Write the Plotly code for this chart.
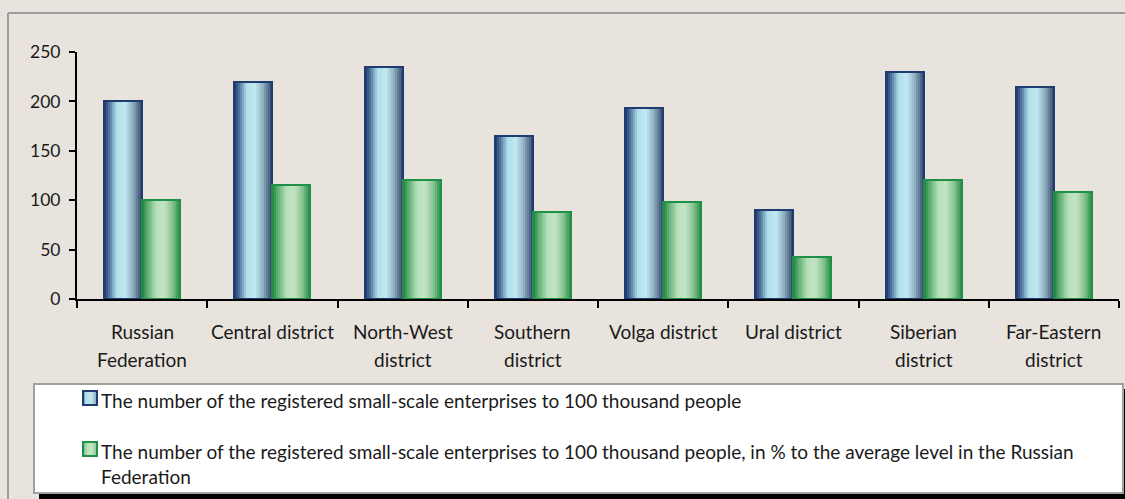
import plotly.graph_objects as go

# ---- data ----
districts = [
    "Russian<br>Federation", "Central district", "North-West<br>district",
    "Southern<br>district", "Volga district", "Ural district",
    "Siberian<br>district", "Far-Eastern<br>district",
]
enterprises_per_100k = [200, 220, 235, 165, 193, 90, 230, 215]
percent_of_russia_avg = [100, 115, 120, 88, 98, 43, 120, 108]
y_ticks = [0, 50, 100, 150, 200, 250]
legend_labels = [
    "The number of the registered small-scale enterprises to 100 thousand people",
    "The number of the registered small-scale enterprises to 100 thousand people, "
    "in % to the average level in the Russian<br>Federation",
]

# ---- page geometry (pixels) ----
W, H = 1125, 499
FONT = "Lato"
TXT = "#1A1A1A"
BG = "#E8E4DD"
AX_L, AX_R = 77, 1119      # x-axis extent
Y0_PX, Y250_PX = 299, 52   # y positions of 0 and 250

def px_x(v):
    return v / W

def px_y(v):
    return 1 - v / H

# horizontal gradient profiles for the cylinder-like bars
BLUE_STOPS = [(0.0, (30, 55, 100)), (0.12, (70, 105, 150)), (0.33, (175, 222, 234)),
              (0.55, (194, 233, 241)), (0.75, (145, 180, 196)), (0.92, (80, 105, 135)),
              (1.0, (45, 65, 105))]
GREEN_STOPS = [(0.0, (28, 128, 60)), (0.15, (95, 175, 115)), (0.38, (182, 224, 186)),
               (0.58, (196, 229, 196)), (0.8, (135, 195, 145)), (0.93, (70, 160, 95)),
               (1.0, (40, 145, 75))]

def grad(stops, t):
    for (t0, c0), (t1, c1) in zip(stops, stops[1:]):
        if t0 <= t <= t1:
            f = (t - t0) / (t1 - t0) if t1 > t0 else 0
            r, g, b = (round(a + (b_ - a) * f) for a, b_ in zip(c0, c1))
            return f"rgb({r},{g},{b})"
    r, g, b = stops[-1][1]
    return f"rgb({r},{g},{b})"

cat_px = (AX_R - AX_L) / len(districts)
BAR_W = 38 / cat_px          # bar width in category units
N_STRIPES = 19

fig = go.Figure()

def add_series(values, offset0, stops, edge):
    sw = BAR_W / N_STRIPES
    for i in range(N_STRIPES):
        t = (i + 0.5) / N_STRIPES
        # each stripe overlaps the next one slightly so no seams show
        w = sw * (1.6 if i < N_STRIPES - 1 else 1.0)
        fig.add_trace(go.Bar(
            x=districts, y=values, width=w, offset=offset0 + i * sw,
            marker=dict(color=grad(stops, t), line=dict(width=0)),
            showlegend=False, hoverinfo="skip",
        ))
    # outline on top
    fig.add_trace(go.Bar(
        x=districts, y=values, width=BAR_W, offset=offset0,
        marker=dict(color="rgba(0,0,0,0)", line=dict(color=edge, width=2)),
        showlegend=False,
    ))

add_series(enterprises_per_100k, -BAR_W, BLUE_STOPS, "#1F3B70")
add_series(percent_of_russia_avg, 0.0, GREEN_STOPS, "#1E9047")

shapes = []
# outer frame: top and left edges
frame = dict(type="line", xref="paper", yref="paper",
             line=dict(color="#9C9C9C", width=2), layer="below")
shapes.append(dict(frame, x0=px_x(8), x1=1.0, y0=px_y(13), y1=px_y(13)))
shapes.append(dict(frame, x0=px_x(8), x1=px_x(8), y0=px_y(13), y1=0.0))
# legend box with drop shadow
shapes.append(dict(type="rect", xref="paper", yref="paper",
                   x0=px_x(39), x1=1.0, y0=px_y(389), y1=0.0,
                   line=dict(width=0), fillcolor="black", layer="above"))
shapes.append(dict(type="rect", xref="paper", yref="paper",
                   x0=px_x(34), x1=px_x(1123), y0=px_y(384), y1=px_y(493),
                   line=dict(color="#A0A0A0", width=2), fillcolor="white", layer="above"))

annotations = []
# legend swatches + texts
for label, stops, edge, top in [
        (legend_labels[0], BLUE_STOPS, "#1F3B70", 391),
        (legend_labels[1], GREEN_STOPS, "#1E9047", 442)]:
    x0, x1 = 83, 97
    n = 7
    for i in range(n):
        t = (i + 0.5) / n
        shapes.append(dict(type="rect", xref="paper", yref="paper",
                           x0=px_x(x0 + (x1 - x0) * i / n), x1=px_x(x0 + (x1 - x0) * (i + 1) / n),
                           y0=px_y(top), y1=px_y(top + 14),
                           line=dict(width=0), fillcolor=grad(stops, 0.2 + 0.6 * t),
                           layer="above"))
    shapes.append(dict(type="rect", xref="paper", yref="paper",
                       x0=px_x(x0), x1=px_x(x1), y0=px_y(top), y1=px_y(top + 14),
                       line=dict(color=edge, width=2), fillcolor="rgba(0,0,0,0)",
                       layer="above"))
    annotations.append(dict(text=label, xref="paper", yref="paper",
                            x=px_x(99), y=px_y(top - 4), xanchor="left", yanchor="top",
                            align="left", showarrow=False,
                            font=dict(family=FONT, size=19, color=TXT)))

# category labels, one annotation per line for the wider line spacing
for cat in districts:
    for j, line in enumerate(cat.split("<br>")):
        annotations.append(dict(text=line, xref="x", yref="paper", x=cat,
                                y=px_y(331 + 28 * j), xanchor="center", yanchor="middle",
                                showarrow=False,
                                font=dict(family=FONT, size=19, color=TXT)))

fig.update_layout(
    width=W, height=H,
    margin=dict(l=0, r=0, t=0, b=0, autoexpand=False),
    paper_bgcolor=BG, plot_bgcolor="rgba(0,0,0,0)",
    barmode="overlay", bargap=0, bargroupgap=0, showlegend=False,
    font=dict(family=FONT, size=19, color=TXT),
    xaxis=dict(domain=[px_x(AX_L), px_x(AX_R)], type="category", automargin=False,
               showticklabels=False, showgrid=False, zeroline=False,
               showline=True, linecolor="black", linewidth=2,
               ticks="outside", tickson="boundaries", ticklen=7, tickwidth=2,
               tickcolor="black", fixedrange=True),
    yaxis=dict(domain=[px_y(Y0_PX), px_y(Y250_PX)], range=[0, 250], automargin=False,
               tickvals=y_ticks, showgrid=False, zeroline=False,
               showline=True, linecolor="black", linewidth=2,
               ticks="outside", ticklen=6, tickwidth=2, tickcolor="black",
               ticklabelstandoff=5,
               tickfont=dict(family=FONT, size=17.5, color=TXT), fixedrange=True),
    shapes=shapes, annotations=annotations,
)

fig.write_html("out.html", config={"displayModeBar": False})
